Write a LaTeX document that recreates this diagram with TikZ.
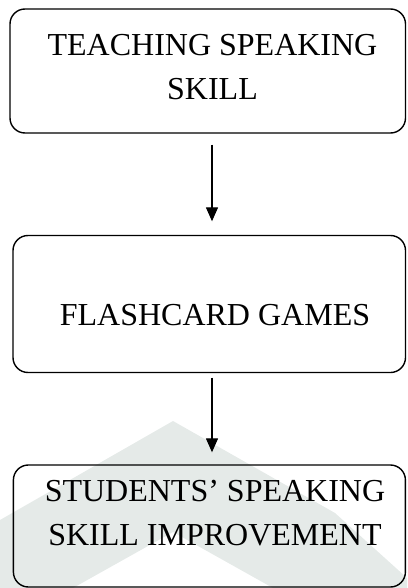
\documentclass[tikz,border=0pt]{standalone}
\usepackage{fontspec}
\setmainfont{Liberation Serif}
\usetikzlibrary{arrows.meta,calc}
\definecolor{wmark}{RGB}{229,234,232}
\tikzset{
  box/.style={draw=black, line width=1.4pt, rounded corners=15pt, inner sep=0pt},
  txt/.style={inner sep=0pt, align=center, font=\fontsize{32}{44}\selectfont},
  arr/.style={draw=black, line width=1.3pt, -{Triangle[length=14pt,width=12pt]}}
}
\begin{document}
\begin{tikzpicture}[x=1pt,y=-1pt]
\useasboundingbox (0,0) rectangle (407,588);
% watermark
\fill[wmark] (0,520) -- (173,421) -- (335,513) -- (407,578) -- (407,588) -- (273,588) -- (173,532) -- (73,588) -- (0,588) -- cycle;
% boxes
\node[box, minimum width=395.5pt, minimum height=124pt] (b1) at (207.75,71) {};
\node[box, minimum width=392.5pt, minimum height=137pt] (b2) at (209.25,304) {};
\node[box, minimum width=392pt, minimum height=122pt] (b3) at (209.4,526) {};
% texts
\node[txt] (t1) at (212.5,67) {TEACHING SPEAKING\\SKILL};
\node[txt] (t2) at (215,315.5) {FLASHCARD GAMES};
\node[txt] (t3) at (215,513.5) {STUDENTS’ SPEAKING\\SKILL IMPROVEMENT};
% connectors
\draw[arr, shorten <=11pt, shorten >=13.5pt] ([xshift=4.25pt]b1.south) -- ([xshift=2.75pt]b2.north);
\draw[arr, shorten <=4.5pt, shorten >=12pt] ([xshift=2.75pt]b2.south) -- ([xshift=2.6pt]b3.north);
\end{tikzpicture}
\end{document}
